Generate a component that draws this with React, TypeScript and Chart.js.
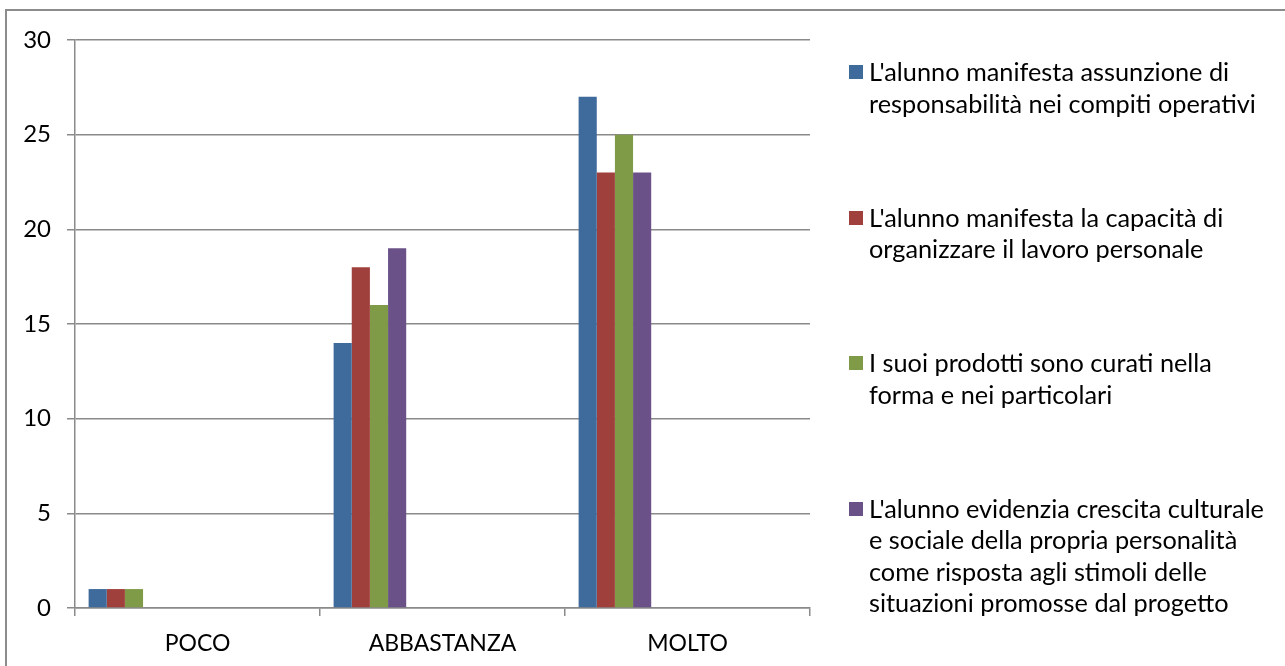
import React, { useEffect, useRef } from "react";
import { Chart, registerables } from "chart.js";

Chart.register(...registerables);

const categories = ["POCO", "ABBASTANZA", "MOLTO"];

const seriesLabels = [
  ["L'alunno manifesta assunzione di", "responsabilità nei compiti operativi"],
  ["L'alunno manifesta la capacità di", "organizzare il lavoro personale"],
  ["I suoi prodotti sono curati nella", "forma e nei particolari"],
  [
    "L'alunno evidenzia crescita culturale",
    "e sociale della propria personalità",
    "come risposta agli stimoli delle",
    "situazioni promosse dal progetto",
  ],
];

const responsabilita = [1, 14, 27];
const organizzazione = [1, 18, 23];
const prodottiCurati = [1, 16, 25];
const crescita = [0, 19, 23];

// the source sheet had 12 series columns; the last 8 are blank
const blankSeriesCount = 8;

const yTicks = [0, 5, 10, 15, 20, 25, 30];

const colors = ["#3F6A9C", "#A0403D", "#7F9B47", "#6A5289"];

const FONT = "Lato, 'Open Sans', sans-serif";
const AXIS_FONT_SIZE = 23;
const LEGEND_FONT_SIZE = 25.3;
const GRID = "#8a8a8a";

export default function App() {
  const canvasRef = useRef<HTMLCanvasElement | null>(null);

  useEffect(() => {
    const canvas = canvasRef.current;
    if (!canvas) return;
    const values = [responsabilita, organizzazione, prodottiCurati, crescita];
    const datasets: any[] = values.map((v, i) => ({
      label: seriesLabels[i].join(" "),
      data: v,
      backgroundColor: colors[i],
      borderWidth: 0,
      barPercentage: 1,
      categoryPercentage: 12 / 13.5,
    }));
    for (let k = 0; k < blankSeriesCount; k++) {
      datasets.push({
        label: "",
        data: categories.map(() => null),
        backgroundColor: "transparent",
        barPercentage: 1,
        categoryPercentage: 12 / 13.5,
      });
    }
    const chart = new Chart(canvas, {
      type: "bar",
      data: { labels: categories, datasets },
      options: {
        animation: false,
        responsive: false,
        maintainAspectRatio: false,
        layout: { padding: { top: 40, right: 475, left: 0, bottom: 0 } },
        plugins: { legend: { display: false }, tooltip: { enabled: false } },
        scales: {
          x: {
            grid: {
              display: true,
              drawOnChartArea: false,
              drawTicks: true,
              tickLength: 8,
              color: GRID,
              lineWidth: 1.5,
              offset: true,
            },
            border: { display: true, color: GRID, width: 1.5 },
            ticks: {
              color: "#000",
              font: { family: FONT, size: AXIS_FONT_SIZE },
              padding: 14,
              maxRotation: 0,
            },
            afterFit: (s: any) => {
              s.height = 58;
            },
          },
          y: {
            min: yTicks[0],
            max: yTicks[yTicks.length - 1],
            afterBuildTicks: (s: any) => {
              s.ticks = yTicks.map((v) => ({ value: v }));
            },
            grid: {
              color: GRID,
              lineWidth: 1.5,
              drawTicks: true,
              tickLength: 8,
            },
            border: { display: true, color: GRID, width: 1.5 },
            ticks: {
              color: "#000",
              font: { family: FONT, size: 24 },
              padding: 16,
            },
            afterFit: (s: any) => {
              s.width = 75;
            },
          },
        },
      },
    });
    return () => chart.destroy();
  }, []);

  return (
    <div
      style={{
        position: "absolute",
        left: 0,
        top: 0,
        width: 1285,
        height: 666,
        overflow: "hidden",
        background: "#fff",
      }}
    >
      <div
        style={{
          position: "absolute",
          left: 5,
          top: 9,
          width: 1300,
          height: 700,
          border: "2px solid #8c8c8c",
        }}
      />
      <canvas
        ref={canvasRef}
        width={1285}
        height={666}
        style={{ position: "absolute", left: 0, top: 0, display: "block" }}
      />
      {seriesLabels.map((lines, i) => (
        <div
          key={i}
          style={{
            position: "absolute",
            left: 849,
            top: 56 + i * 145.5,
            fontFamily: FONT,
            fontSize: LEGEND_FONT_SIZE,
            lineHeight: "31.5px",
            color: "#000",
          }}
        >
          <span
            style={{
              position: "absolute",
              left: 0,
              top: 9,
              width: 14,
              height: 14,
              background: colors[i],
            }}
          />
          <div style={{ marginLeft: 20, whiteSpace: "nowrap" }}>
            {lines.map((l, j) => (
              <div key={j}>{l}</div>
            ))}
          </div>
        </div>
      ))}
    </div>
  );
}
